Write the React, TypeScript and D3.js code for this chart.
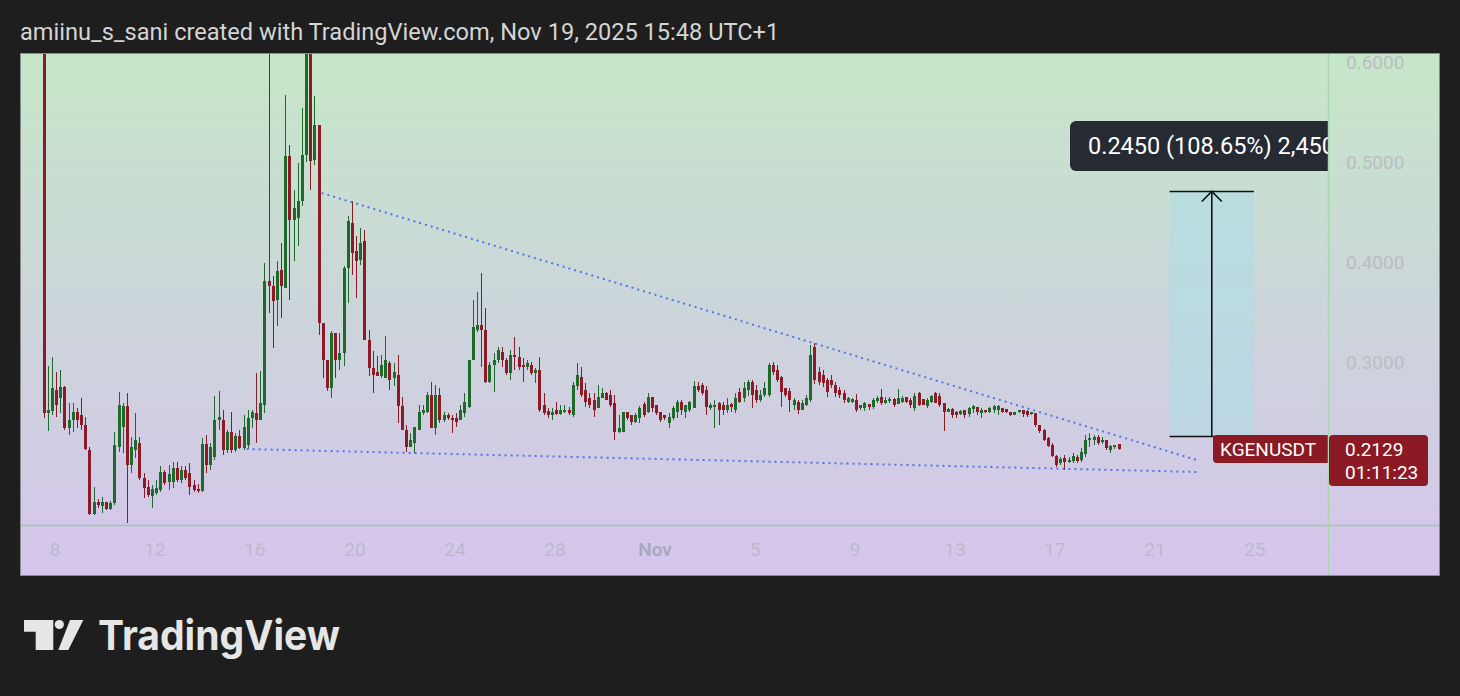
import React from "react";
import * as d3 from "d3";

type Candle = [number, number, number, number]; // open, high, low, close

// KGENUSDT 4h candles, first one opens Oct 7 2025 13:00 (UTC+1)
const ohlcOct07: Candle[] = [
  [0.800, 0.900, 0.244, 0.249], [0.249, 0.296, 0.231, 0.252], [0.251, 0.305, 0.247, 0.274],
  [0.272, 0.290, 0.245, 0.257], [0.264, 0.292, 0.249, 0.275], [0.275, 0.276, 0.232, 0.234],
  [0.234, 0.259, 0.227, 0.242], [0.242, 0.259, 0.230, 0.250], [0.250, 0.254, 0.234, 0.242],
  [0.247, 0.264, 0.232, 0.237], [0.237, 0.245, 0.212, 0.213], [0.212, 0.215, 0.147, 0.148],
  [0.148, 0.175, 0.147, 0.160], [0.160, 0.163, 0.154, 0.157], [0.156, 0.165, 0.149, 0.160],
  [0.160, 0.160, 0.152, 0.153], [0.153, 0.161, 0.152, 0.159], [0.159, 0.230, 0.157, 0.217],
  [0.215, 0.270, 0.210, 0.257], [0.235, 0.259, 0.209, 0.256], [0.256, 0.269, 0.139, 0.197],
  [0.197, 0.225, 0.189, 0.215], [0.212, 0.249, 0.204, 0.222], [0.219, 0.225, 0.182, 0.184],
  [0.184, 0.189, 0.164, 0.174],
];
const ohlcOct11: Candle[] = [
  [0.175, 0.182, 0.165, 0.167], [0.166, 0.177, 0.154, 0.173], [0.169, 0.182, 0.167, 0.174],
  [0.172, 0.196, 0.170, 0.190], [0.190, 0.192, 0.177, 0.179], [0.180, 0.197, 0.172, 0.188],
  [0.180, 0.200, 0.174, 0.194], [0.194, 0.200, 0.180, 0.182], [0.182, 0.196, 0.179, 0.192],
  [0.192, 0.196, 0.182, 0.184], [0.189, 0.199, 0.167, 0.175], [0.177, 0.182, 0.170, 0.172],
  [0.173, 0.178, 0.169, 0.171], [0.171, 0.224, 0.170, 0.218], [0.218, 0.227, 0.189, 0.197],
  [0.197, 0.219, 0.192, 0.215], [0.205, 0.266, 0.202, 0.242], [0.242, 0.271, 0.232, 0.245],
  [0.242, 0.252, 0.207, 0.212], [0.212, 0.232, 0.209, 0.230], [0.230, 0.250, 0.209, 0.212],
  [0.212, 0.229, 0.210, 0.226], [0.226, 0.232, 0.213, 0.214], [0.214, 0.247, 0.212, 0.235],
  [0.217, 0.252, 0.213, 0.244],
];
const ohlcOct15: Candle[] = [
  [0.244, 0.252, 0.234, 0.250], [0.249, 0.289, 0.219, 0.242], [0.242, 0.291, 0.242, 0.259],
  [0.257, 0.399, 0.249, 0.381], [0.381, 0.720, 0.349, 0.376], [0.376, 0.386, 0.314, 0.361],
  [0.362, 0.401, 0.336, 0.391], [0.392, 0.419, 0.344, 0.376], [0.374, 0.567, 0.374, 0.506],
  [0.506, 0.517, 0.362, 0.442], [0.442, 0.472, 0.401, 0.454], [0.444, 0.499, 0.416, 0.461],
  [0.461, 0.554, 0.456, 0.507], [0.507, 0.660, 0.500, 0.625], [0.625, 0.640, 0.472, 0.501],
  [0.502, 0.566, 0.497, 0.537], [0.537, 0.537, 0.327, 0.339], [0.339, 0.339, 0.284, 0.302],
  [0.302, 0.302, 0.271, 0.274], [0.274, 0.331, 0.264, 0.329], [0.329, 0.329, 0.284, 0.302],
  [0.302, 0.329, 0.292, 0.309], [0.309, 0.396, 0.296, 0.394], [0.394, 0.446, 0.359, 0.441],
  [0.439, 0.461, 0.387, 0.409],
];
const ohlcOct20: Candle[] = [
  [0.411, 0.426, 0.364, 0.401], [0.402, 0.434, 0.397, 0.419], [0.421, 0.432, 0.322, 0.322],
  [0.322, 0.332, 0.286, 0.294], [0.294, 0.311, 0.269, 0.287], [0.290, 0.306, 0.286, 0.286],
  [0.286, 0.307, 0.284, 0.297], [0.284, 0.326, 0.284, 0.302], [0.299, 0.301, 0.272, 0.282],
  [0.284, 0.299, 0.276, 0.290], [0.287, 0.307, 0.239, 0.256], [0.256, 0.265, 0.232, 0.232],
  [0.232, 0.237, 0.210, 0.215], [0.215, 0.229, 0.215, 0.222], [0.219, 0.235, 0.209, 0.235],
  [0.232, 0.257, 0.232, 0.250], [0.249, 0.257, 0.247, 0.252], [0.250, 0.270, 0.249, 0.267],
  [0.267, 0.280, 0.234, 0.234], [0.234, 0.277, 0.227, 0.267], [0.267, 0.274, 0.239, 0.242],
  [0.242, 0.250, 0.240, 0.247], [0.247, 0.249, 0.242, 0.244], [0.244, 0.247, 0.229, 0.242],
  [0.244, 0.249, 0.235, 0.240],
];
const ohlcOct24: Candle[] = [
  [0.242, 0.257, 0.242, 0.252], [0.249, 0.269, 0.245, 0.260], [0.255, 0.302, 0.254, 0.302],
  [0.302, 0.362, 0.302, 0.335], [0.332, 0.370, 0.330, 0.337], [0.337, 0.389, 0.295, 0.332],
  [0.332, 0.354, 0.279, 0.280], [0.280, 0.300, 0.279, 0.297], [0.297, 0.309, 0.270, 0.302],
  [0.302, 0.315, 0.299, 0.312], [0.310, 0.315, 0.295, 0.302], [0.302, 0.304, 0.287, 0.289],
  [0.289, 0.312, 0.282, 0.307], [0.307, 0.325, 0.292, 0.305], [0.305, 0.315, 0.292, 0.295],
  [0.297, 0.304, 0.280, 0.295], [0.295, 0.302, 0.292, 0.299], [0.297, 0.300, 0.287, 0.289],
  [0.289, 0.294, 0.279, 0.292], [0.292, 0.305, 0.250, 0.252], [0.257, 0.269, 0.247, 0.249],
  [0.251, 0.254, 0.244, 0.247], [0.247, 0.254, 0.242, 0.250], [0.252, 0.260, 0.247, 0.248],
  [0.248, 0.257, 0.247, 0.252],
];
const ohlcOct28: Candle[] = [
  [0.250, 0.257, 0.249, 0.252], [0.252, 0.255, 0.247, 0.249], [0.247, 0.280, 0.245, 0.277],
  [0.276, 0.299, 0.272, 0.287], [0.285, 0.295, 0.265, 0.267], [0.272, 0.279, 0.255, 0.260],
  [0.264, 0.269, 0.254, 0.257], [0.262, 0.269, 0.245, 0.252], [0.254, 0.277, 0.254, 0.265],
  [0.264, 0.274, 0.264, 0.269], [0.269, 0.270, 0.262, 0.262], [0.267, 0.272, 0.255, 0.257],
  [0.259, 0.267, 0.222, 0.230], [0.230, 0.247, 0.229, 0.234], [0.230, 0.250, 0.230, 0.250],
  [0.250, 0.250, 0.242, 0.244], [0.247, 0.247, 0.237, 0.240], [0.240, 0.249, 0.239, 0.247],
  [0.244, 0.256, 0.239, 0.254], [0.258, 0.260, 0.245, 0.247], [0.250, 0.269, 0.249, 0.265],
  [0.265, 0.265, 0.250, 0.254], [0.257, 0.257, 0.247, 0.249], [0.250, 0.250, 0.240, 0.242],
  [0.247, 0.247, 0.242, 0.244],
];
const ohlcNov01: Candle[] = [
  [0.239, 0.249, 0.234, 0.245], [0.244, 0.256, 0.242, 0.254], [0.250, 0.262, 0.244, 0.260],
  [0.260, 0.262, 0.247, 0.252], [0.250, 0.257, 0.244, 0.257], [0.252, 0.261, 0.250, 0.260],
  [0.254, 0.281, 0.254, 0.276], [0.276, 0.280, 0.270, 0.272], [0.277, 0.279, 0.267, 0.269],
  [0.272, 0.276, 0.247, 0.255], [0.254, 0.259, 0.252, 0.257], [0.255, 0.262, 0.234, 0.257],
  [0.259, 0.260, 0.237, 0.252], [0.257, 0.260, 0.247, 0.252], [0.252, 0.264, 0.249, 0.257],
  [0.258, 0.259, 0.250, 0.255], [0.252, 0.269, 0.249, 0.264], [0.270, 0.274, 0.259, 0.260],
  [0.264, 0.280, 0.260, 0.274], [0.272, 0.282, 0.266, 0.280], [0.280, 0.282, 0.254, 0.267],
  [0.272, 0.277, 0.259, 0.262], [0.262, 0.272, 0.260, 0.267], [0.267, 0.280, 0.265, 0.274],
  [0.267, 0.299, 0.265, 0.297],
];
const ohlcNov05: Candle[] = [
  [0.297, 0.300, 0.287, 0.290], [0.292, 0.297, 0.280, 0.282], [0.285, 0.286, 0.255, 0.270],
  [0.274, 0.274, 0.265, 0.267], [0.271, 0.274, 0.250, 0.262], [0.257, 0.264, 0.252, 0.262],
  [0.260, 0.262, 0.248, 0.252], [0.252, 0.262, 0.252, 0.259], [0.257, 0.267, 0.256, 0.264],
  [0.262, 0.317, 0.260, 0.307], [0.315, 0.319, 0.278, 0.282], [0.290, 0.295, 0.277, 0.280],
  [0.287, 0.292, 0.275, 0.279], [0.282, 0.284, 0.265, 0.270], [0.282, 0.287, 0.274, 0.277],
  [0.277, 0.280, 0.265, 0.269], [0.272, 0.275, 0.264, 0.267], [0.269, 0.272, 0.259, 0.262],
  [0.260, 0.265, 0.259, 0.264], [0.260, 0.264, 0.259, 0.263], [0.262, 0.268, 0.250, 0.252],
  [0.254, 0.257, 0.252, 0.257], [0.254, 0.260, 0.251, 0.259], [0.258, 0.258, 0.252, 0.255],
  [0.255, 0.264, 0.253, 0.262],
];
const ohlcNov09: Candle[] = [
  [0.261, 0.266, 0.259, 0.264], [0.265, 0.273, 0.257, 0.259], [0.259, 0.265, 0.258, 0.262],
  [0.261, 0.265, 0.259, 0.263], [0.263, 0.264, 0.255, 0.257], [0.258, 0.273, 0.258, 0.264],
  [0.260, 0.266, 0.259, 0.264], [0.265, 0.265, 0.259, 0.260], [0.262, 0.264, 0.254, 0.257],
  [0.254, 0.269, 0.251, 0.266], [0.269, 0.270, 0.256, 0.257], [0.263, 0.263, 0.257, 0.257],
  [0.256, 0.264, 0.254, 0.262], [0.260, 0.267, 0.259, 0.266], [0.269, 0.270, 0.259, 0.259],
  [0.266, 0.269, 0.255, 0.257], [0.259, 0.259, 0.231, 0.250], [0.250, 0.254, 0.250, 0.253],
  [0.253, 0.254, 0.244, 0.247], [0.250, 0.251, 0.244, 0.247], [0.248, 0.252, 0.247, 0.251],
  [0.252, 0.252, 0.244, 0.247], [0.248, 0.255, 0.245, 0.254], [0.253, 0.257, 0.249, 0.256],
];
const ohlcNov13: Candle[] = [
  [0.255, 0.255, 0.247, 0.250], [0.249, 0.254, 0.244, 0.252], [0.252, 0.252, 0.249, 0.250],
  [0.250, 0.255, 0.249, 0.254], [0.252, 0.257, 0.249, 0.256], [0.252, 0.257, 0.247, 0.256],
  [0.254, 0.254, 0.249, 0.250], [0.253, 0.253, 0.249, 0.250], [0.250, 0.250, 0.246, 0.247],
  [0.247, 0.250, 0.247, 0.250], [0.250, 0.252, 0.249, 0.252], [0.252, 0.252, 0.245, 0.248],
  [0.251, 0.252, 0.245, 0.247], [0.248, 0.250, 0.247, 0.250], [0.249, 0.249, 0.235, 0.237],
  [0.237, 0.237, 0.229, 0.231], [0.232, 0.233, 0.221, 0.222], [0.224, 0.225, 0.215, 0.216],
  [0.217, 0.219, 0.205, 0.206], [0.206, 0.207, 0.195, 0.197], [0.199, 0.205, 0.197, 0.203],
  [0.204, 0.207, 0.192, 0.200], [0.200, 0.205, 0.199, 0.202], [0.201, 0.209, 0.199, 0.206],
  [0.205, 0.207, 0.199, 0.201], [0.202, 0.214, 0.200, 0.210], [0.208, 0.227, 0.205, 0.222],
  [0.222, 0.229, 0.215, 0.224], [0.222, 0.227, 0.217, 0.225], [0.225, 0.227, 0.217, 0.219],
  [0.220, 0.225, 0.218, 0.222], [0.222, 0.222, 0.212, 0.214], [0.212, 0.217, 0.209, 0.216],
  [0.215, 0.217, 0.213, 0.217], [0.218, 0.218, 0.2125, 0.2129],
];

const candles: Candle[] = [
  ...ohlcOct07, ...ohlcOct11, ...ohlcOct15, ...ohlcOct20, ...ohlcOct24,
  ...ohlcOct28, ...ohlcNov01, ...ohlcNov05, ...ohlcNov09, ...ohlcNov13,
];

const firstCandleTime = Date.UTC(2025, 9, 7, 13);
const candleMs = 4 * 3600 * 1000;

const dateTicks = [
  { time: Date.UTC(2025, 9, 8), label: "8" },
  { time: Date.UTC(2025, 9, 12), label: "12" },
  { time: Date.UTC(2025, 9, 16), label: "16" },
  { time: Date.UTC(2025, 9, 20), label: "20" },
  { time: Date.UTC(2025, 9, 24), label: "24" },
  { time: Date.UTC(2025, 9, 28), label: "28" },
  { time: Date.UTC(2025, 10, 1), label: "Nov" },
  { time: Date.UTC(2025, 10, 5), label: "5" },
  { time: Date.UTC(2025, 10, 9), label: "9" },
  { time: Date.UTC(2025, 10, 13), label: "13" },
  { time: Date.UTC(2025, 10, 17), label: "17" },
  { time: Date.UTC(2025, 10, 21), label: "21" },
  { time: Date.UTC(2025, 10, 25), label: "25" },
];
const priceTicks = [0.6, 0.5, 0.4, 0.3];

const upperTrend = [
  { time: Date.UTC(2025, 9, 18, 16), price: 0.469 },
  { time: Date.UTC(2025, 10, 22, 16), price: 0.202 },
];
const lowerTrend = [
  { time: Date.UTC(2025, 9, 15, 16), price: 0.213 },
  { time: Date.UTC(2025, 10, 22, 16), price: 0.19 },
];
const measureRange = {
  start: Date.UTC(2025, 10, 21, 14),
  end: Date.UTC(2025, 10, 24, 23),
  from: 0.2255,
  to: 0.4705,
};
const measureText = "0.2450 (108.65%) 2,450";
const symbolName = "KGENUSDT";
const lastPrice = 0.2129;
const countdown = "01:11:23";
const headerText = "amiinu_s_sani created with TradingView.com, Nov 19, 2025 15:48 UTC+1";

const W = 1460;
const H = 696;
const panel = { left: 20, top: 53, right: 1440, bottom: 576 };
const plot = { left: 20, top: 53, right: 1328, bottom: 525 };
const FONT = "Roboto, 'Noto Sans', sans-serif";
const UP = "#1d6a2a";
const DOWN = "#8c1b27";

export default function App() {
  const x = d3
    .scaleUtc()
    .domain([Date.UTC(2025, 9, 8), Date.UTC(2025, 10, 25)])
    .range([55, 1255]);
  const y = d3.scaleLinear().domain([0.2, 0.6]).range([462, 62]);

  const trendLine = d3
    .line<{ time: number; price: number }>()
    .x((d) => x(d.time))
    .y((d) => y(d.price));

  const mx0 = x(measureRange.start);
  const mx1 = x(measureRange.end);
  const myTop = y(measureRange.to);
  const myBot = y(measureRange.from);
  const mxMid = (mx0 + mx1) / 2;
  const lastY = y(lastPrice);

  return (
    <svg
      width={W}
      height={H}
      style={{ position: "absolute", left: 0, top: 0, display: "block" }}
      fontFamily={FONT}
    >
      <defs>
        <linearGradient id="bgGrad" x1="0" y1="0" x2="0" y2="1">
          <stop offset="0%" stopColor="#c6e7c9" />
          <stop offset="50%" stopColor="#ccd5da" />
          <stop offset="100%" stopColor="#d5c5ec" />
        </linearGradient>
        <clipPath id="plotClip">
          <rect x={plot.left} y={plot.top} width={plot.right - plot.left} height={plot.bottom - plot.top} />
        </clipPath>
      </defs>

      <rect x={0} y={0} width={W} height={H} fill="#1e1e1e" />
      <text x={20} y={39.5} fill="#d4d4d4" fontSize={23.6}>
        {headerText}
      </text>

      <rect
        x={panel.left}
        y={panel.top}
        width={panel.right - panel.left}
        height={panel.bottom - panel.top}
        fill="url(#bgGrad)"
      />

      <g clipPath="url(#plotClip)">
        {candles.map((c, i) => {
          const [o, h, l, cl] = c;
          const cx = Math.round(x(firstCandleTime + i * candleMs));
          const color = cl >= o ? UP : DOWN;
          const top = Math.min(y(o), y(cl));
          const bh = Math.max(1, Math.abs(y(o) - y(cl)));
          return (
            <g key={i} fill={color}>
              <rect x={cx} y={y(h)} width={1} height={Math.max(1, y(l) - y(h))} />
              <rect x={cx - 1} y={top} width={3} height={bh} />
            </g>
          );
        })}

        <path d={trendLine(upperTrend) || ""} fill="none" stroke="#4f74f0" strokeWidth={2} strokeDasharray="2 4" />
        <path d={trendLine(lowerTrend) || ""} fill="none" stroke="#4f74f0" strokeWidth={2} strokeDasharray="2 4" />

        <rect x={mx0} y={myTop} width={mx1 - mx0} height={myBot - myTop} fill="rgba(175,220,230,0.6)" />
        <line x1={mx0} x2={mx1} y1={myTop} y2={myTop} stroke="#111" strokeWidth={1.6} />
        <line x1={mx0} x2={mx1} y1={myBot} y2={myBot} stroke="#111" strokeWidth={1.6} />
        <line x1={mxMid} x2={mxMid} y1={myTop} y2={myBot} stroke="#111" strokeWidth={1.6} />
        <polyline
          points={`${mxMid - 10},${myTop + 10} ${mxMid},${myTop} ${mxMid + 10},${myTop + 10}`}
          fill="none"
          stroke="#111"
          strokeWidth={1.6}
        />

        <rect x={1070} y={121} width={300} height={50} rx={6} fill="#262a33" />
        <text x={1088} y={154} fill="#ffffff" fontSize={23.5}>
          {measureText}
        </text>

        <rect x={1213} y={lastY - 14} width={130} height={28} rx={4} fill="#8b1a25" />
        <text x={1220} y={lastY} dominantBaseline="central" fill="#ffffff" fontSize={19}>
          {symbolName}
        </text>
      </g>

      <line x1={plot.left} x2={panel.right} y1={plot.bottom + 0.5} y2={plot.bottom + 0.5} stroke="#a4c2b4" strokeWidth={1.5} />
      <line x1={plot.right + 0.5} x2={plot.right + 0.5} y1={panel.top} y2={panel.bottom} stroke="#a8d7af" strokeWidth={1.5} />

      {priceTicks.map((p) => (
        <text key={p} x={1346} y={y(p)} dominantBaseline="central" fill="#babdc2" fontSize={19}>
          {p.toFixed(4)}
        </text>
      ))}

      <rect x={1329} y={lastY - 14} width={99} height={51} rx={4} fill="#8b1a25" />
      <text x={1345} y={lastY} dominantBaseline="central" fill="#ffffff" fontSize={19}>
        {lastPrice.toFixed(4)}
      </text>
      <text x={1345} y={lastY + 23} dominantBaseline="central" fill="#ffffff" fontSize={19}>
        {countdown}
      </text>

      {dateTicks.map((t) => (
        <text
          key={t.label}
          x={x(t.time)}
          y={549}
          textAnchor="middle"
          dominantBaseline="central"
          fill={t.label === "Nov" ? "#aaa6bd" : "#bcb8cc"}
          fontWeight={t.label === "Nov" ? 600 : 400}
          fontSize={19}
        >
          {t.label}
        </text>
      ))}

      <rect
        x={panel.left + 0.5}
        y={panel.top + 0.5}
        width={panel.right - panel.left - 1}
        height={panel.bottom - panel.top - 1}
        fill="none"
        stroke="#8a8a8a"
        strokeWidth={1}
      />

      <g fill="#e6e6e6">
        <polygon points="24,620 53.3,620 53.3,650 35.7,650 35.7,631.7 24,631.7" />
        <circle cx={59.3} cy={624.5} r={4.6} />
        <polygon points="70,620 83.3,620 68.3,650 58.3,650" />
        <text x={98} y={650} fontFamily="Inter, Lato, sans-serif" fontWeight={700} fontSize={41} textLength={242} lengthAdjust="spacingAndGlyphs">
          TradingView
        </text>
      </g>
    </svg>
  );
}
